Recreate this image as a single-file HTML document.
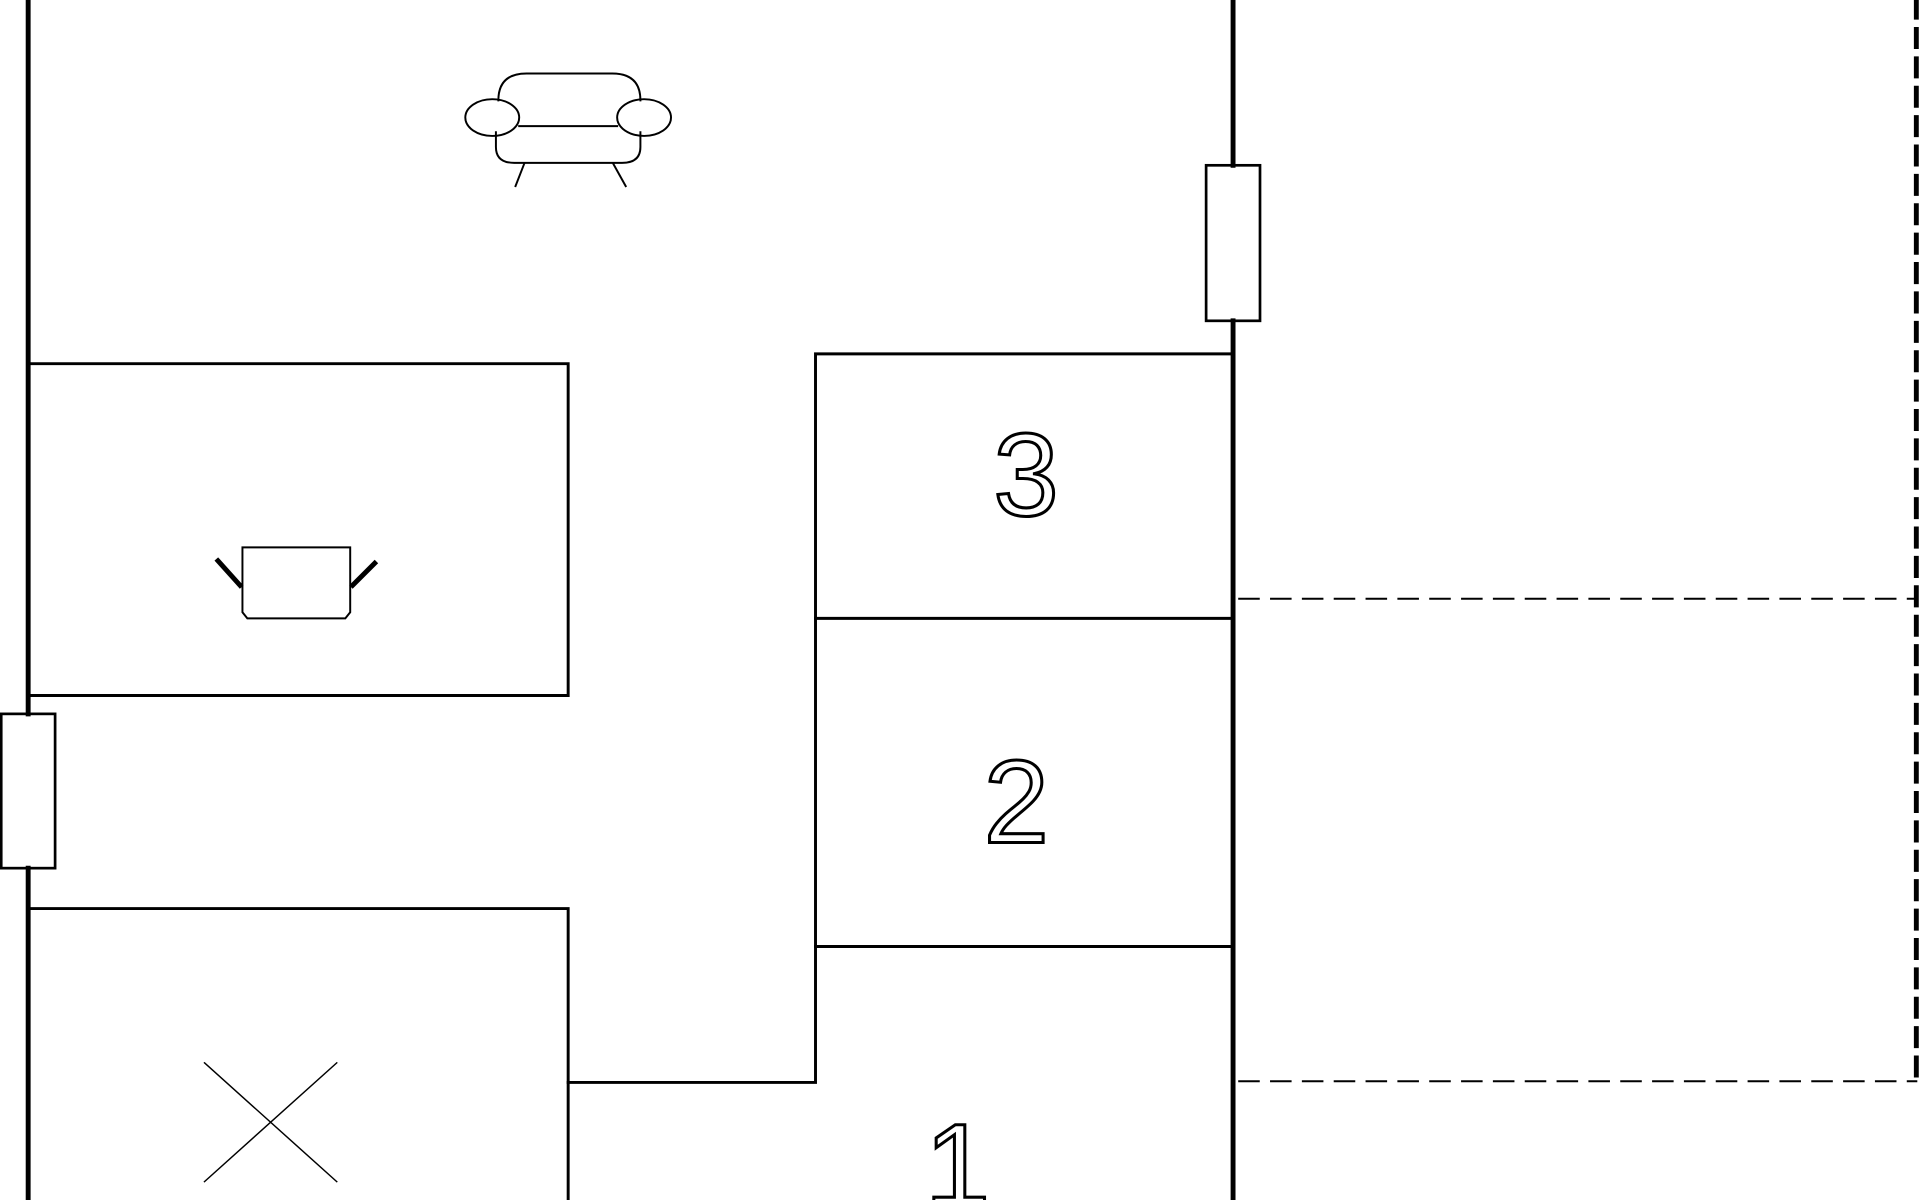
<!DOCTYPE html>
<html><head><meta charset="utf-8"><style>html,body{margin:0;padding:0;background:#fff;}svg{display:block}</style></head>
<body>
<svg width="1920" height="1200" viewBox="0 0 1568 980" xmlns="http://www.w3.org/2000/svg">
<rect width="1568" height="980" fill="#fff"/>
<g fill="none" stroke="#000" stroke-linecap="square">
<!-- walls -->
<line x1="23" y1="0" x2="23" y2="583" stroke-width="4"/>
<line x1="23" y1="709" x2="23" y2="980" stroke-width="4"/>
<rect x="1" y="583" width="44" height="126" stroke-width="2.2"/>
<line x1="1007" y1="0" x2="1007" y2="135" stroke-width="4"/>
<line x1="1007" y1="262" x2="1007" y2="980" stroke-width="4"/>
<rect x="985" y="135" width="44" height="127" stroke-width="2.2"/>
<!-- dashed -->
<line x1="1565" y1="0" x2="1565" y2="883" stroke-width="4" stroke-dasharray="14,10"/>
<line x1="1012" y1="489" x2="1565" y2="489" stroke-width="1.6" stroke-dasharray="16,10"/>
<line x1="1012" y1="883" x2="1565" y2="883" stroke-width="1.6" stroke-dasharray="16,10"/>
<!-- rooms -->
<g stroke-width="2.4">
<polyline points="25,297 464,297 464,568 25,568"/>
<polyline points="25,742 464,742 464,980"/>
<polyline points="464,884 666,884 666,289 1005,289"/>
<line x1="666" y1="505" x2="1005" y2="505"/>
<line x1="666" y1="773" x2="1005" y2="773"/>
</g>
<!-- sofa -->
<g stroke-width="1.6">
<path d="M407,82 Q407,60 430,60 L500,60 Q523,60 523,82"/>
<ellipse cx="402" cy="96" rx="22" ry="15"/>
<ellipse cx="526" cy="96" rx="22" ry="15"/>
<line x1="424" y1="103" x2="504" y2="103"/>
<path d="M405,108 L405,120 Q405,133 420,133 L508,133 Q523,133 523,120 L523,108"/>
<line x1="428" y1="134" x2="421" y2="152"/>
<line x1="501" y1="134" x2="511" y2="152"/>
<!-- chair -->
<path d="M198,447 L286,447 L286,500 L282,505 L202,505 L198,500 Z"/>
</g>
<line x1="178" y1="458" x2="196" y2="478" stroke-width="4"/>
<line x1="306" y1="460" x2="288" y2="478" stroke-width="4"/>
<!-- X -->
<line x1="167" y1="868" x2="275" y2="965" stroke-width="1.2"/>
<line x1="275" y1="868" x2="167" y2="965" stroke-width="1.2"/>
</g>
<g font-family="Liberation Sans, sans-serif" font-size="96" fill="#fff" stroke="#000" stroke-width="2.5" text-anchor="middle">
<text x="838" y="421">3</text>
<text x="830" y="688">2</text>
<text x="782" y="985">1</text>
</g>
</svg>
</body></html>
